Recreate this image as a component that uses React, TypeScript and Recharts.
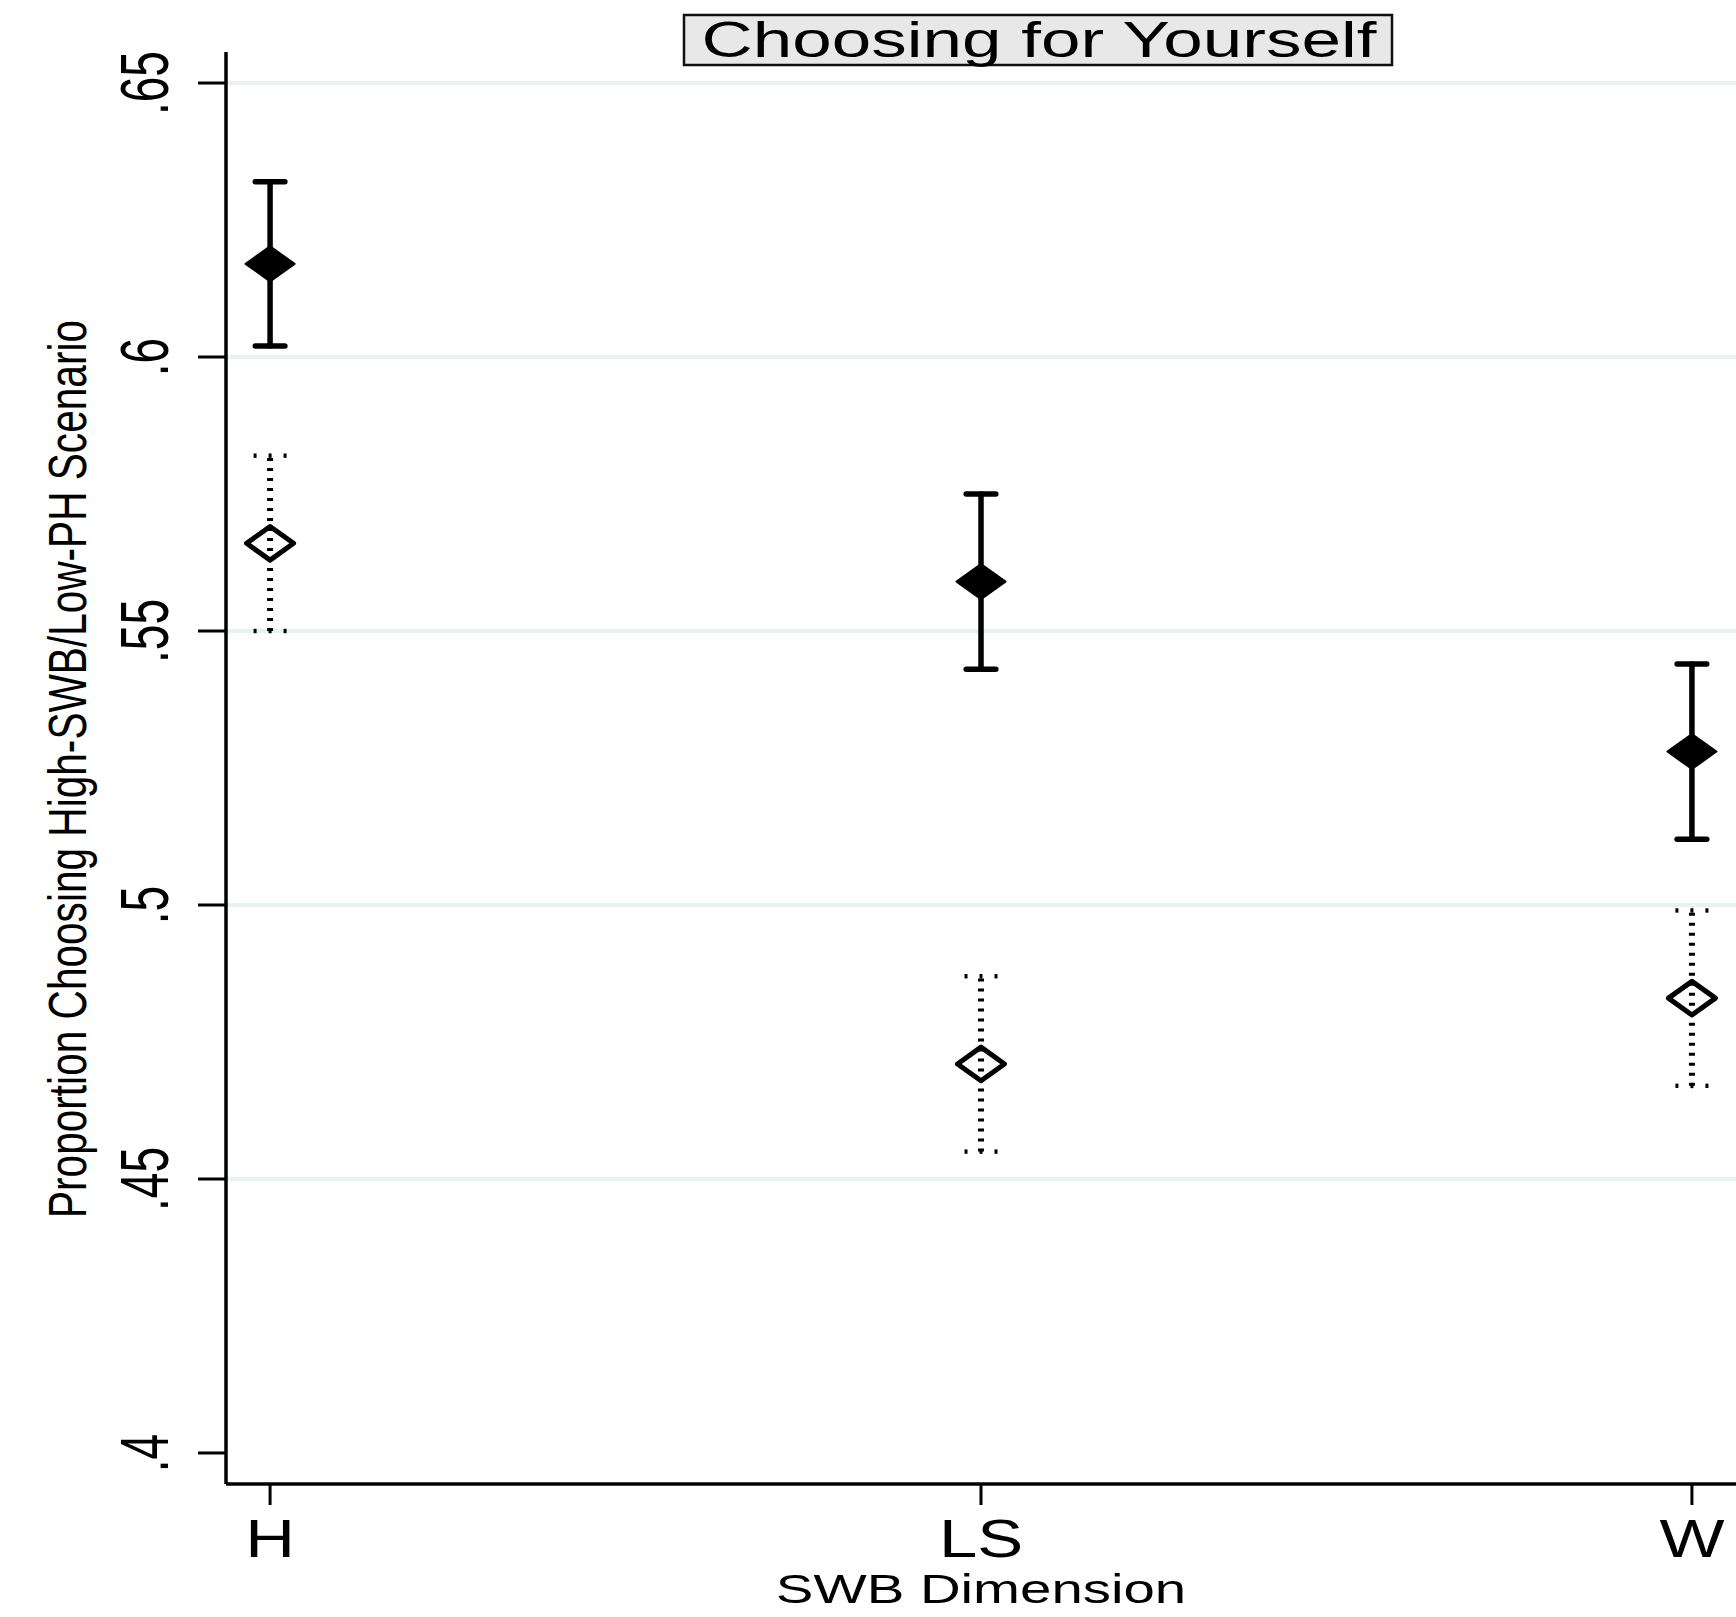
import React from "react"
import { ScatterChart, Scatter, XAxis, YAxis, ErrorBar, ReferenceLine } from "recharts"

const categories = ["H", "LS", "W"]
const positions = [1, 2, 3]

// solid diamonds with solid CI bars
const filledMean = [0.617, 0.559, 0.528]
const filledLow = [0.602, 0.543, 0.512]
const filledHigh = [0.632, 0.575, 0.544]

// hollow diamonds with dotted CI bars
const hollowMean = [0.566, 0.471, 0.483]
const hollowLow = [0.55, 0.455, 0.467]
const hollowHigh = [0.582, 0.487, 0.499]

const yTicks = [0.4, 0.45, 0.5, 0.55, 0.6, 0.65]
const gridValues = [0.45, 0.5, 0.55, 0.6, 0.65]

const font = "'Liberation Sans', Arial, Helvetica, sans-serif"

const filledData = positions.map((x, i) => ({
  x,
  y: filledMean[i],
  err: [filledMean[i] - filledLow[i], filledHigh[i] - filledMean[i]],
}))

const hollowData = positions.map((x, i) => ({
  x,
  y: hollowMean[i],
  err: [hollowMean[i] - hollowLow[i], hollowHigh[i] - hollowMean[i]],
}))

const hollowCaps = positions.flatMap((x, i) => [
  { x, y: hollowLow[i] },
  { x, y: hollowHigh[i] },
])

const fmtY = (v: number) => v.toFixed(2).replace(/0+$/, "").replace(/^0/, "")

const FilledDiamond = (p: any) => {
  const { cx, cy } = p
  return (
    <path
      d={`M${cx - 24.5},${cy}L${cx},${cy - 17.5}L${cx + 24.5},${cy}L${cx},${cy + 17.5}Z`}
      fill="#000"
      stroke="#000"
      strokeWidth={2}
      strokeLinejoin="round"
    />
  )
}

const HollowDiamond = (p: any) => {
  const { cx, cy } = p
  return (
    <path
      d={`M${cx - 23.5},${cy}L${cx},${cy - 16.8}L${cx + 23.5},${cy}L${cx},${cy + 16.8}Z`}
      fill="none"
      stroke="#000"
      strokeWidth={5}
      strokeLinejoin="round"
    />
  )
}

const DottedCap = (p: any) => {
  const { cx, cy } = p
  return (
    <g fill="#000">
      {[-15, 0, 15].map((dx) => (
        <rect key={dx} x={cx + dx - 1.5} y={cy - 2.2} width={3} height={4.4} />
      ))}
    </g>
  )
}

const YTick = (p: any) => {
  const { x, y, payload } = p
  return (
    <g transform={`translate(${x - 30},${y}) scale(1.5,1) rotate(-90)`}>
      <text x={0} y={0} textAnchor="middle" fontSize={46} fontFamily={font} fill="#000">
        {fmtY(payload.value)}
      </text>
    </g>
  )
}

const XTick = (p: any) => {
  const { x, y, payload } = p
  const label = categories[positions.indexOf(payload.value)] ?? ""
  return (
    <g transform={`translate(${x},${y + 50}) scale(1.3,1)`}>
      <text x={0} y={0} textAnchor="middle" fontSize={53} fontFamily={font} fill="#000">
        {label}
      </text>
    </g>
  )
}

const YLabel = (p: any) => {
  const vb = p.viewBox || { x: 0, y: 52, width: 226, height: 1432 }
  return (
    <g transform={`translate(${vb.x + 86},${vb.y + vb.height / 2 + 1}) scale(1.33,1) rotate(-90)`}>
      <text x={0} y={0} textAnchor="middle" fontSize={40.6} fontFamily={font} fill="#000">
        Proportion Choosing High-SWB/Low-PH Scenario
      </text>
    </g>
  )
}

const XLabel = (p: any) => {
  const vb = p.viewBox || { x: 226, y: 1484, width: 1510, height: 133 }
  return (
    <g transform={`translate(${vb.x + vb.width / 2},${vb.y + 119}) scale(1.375,1)`}>
      <text x={0} y={0} textAnchor="middle" fontSize={41} fontFamily={font} fill="#000">
        SWB Dimension
      </text>
    </g>
  )
}

export default function App() {
  return (
    <div style={{ position: "absolute", left: 0, top: 0, width: 1736, height: 1617, background: "#fff" }}>
      <ScatterChart width={1736} height={1617} margin={{ top: 52, right: 0, bottom: 0, left: 0 }}>
        {gridValues.map((v) => (
          <ReferenceLine key={v} y={v} stroke="#e9f1f3" strokeWidth={4} />
        ))}
        <XAxis
          type="number"
          dataKey="x"
          domain={[0.938, 3.062]}
          ticks={positions}
          allowDataOverflow
          height={133}
          tickSize={21}
          tickMargin={2}
          tick={<XTick />}
          tickLine={{ stroke: "#000", strokeWidth: 3 }}
          axisLine={{ stroke: "#000", strokeWidth: 3.5 }}
          label={{ content: <XLabel /> }}
        />
        <YAxis
          type="number"
          dataKey="y"
          domain={[0.39434, 0.65566]}
          ticks={yTicks}
          allowDataOverflow
          width={226}
          tickSize={28}
          tickMargin={0}
          tick={<YTick />}
          tickLine={{ stroke: "#000", strokeWidth: 3 }}
          axisLine={{ stroke: "#000", strokeWidth: 3.5 }}
          label={{ content: <YLabel /> }}
        />
        <Scatter data={hollowCaps} shape={<DottedCap />} isAnimationActive={false} />
        <Scatter data={hollowData} shape={<HollowDiamond />} isAnimationActive={false}>
          <ErrorBar
            dataKey="err"
            direction="y"
            width={0}
            stroke="#000"
            strokeWidth={6}
            strokeDasharray="3 7"
            isAnimationActive={false}
          />
        </Scatter>
        <Scatter data={filledData} shape={<FilledDiamond />} isAnimationActive={false}>
          <ErrorBar
            dataKey="err"
            direction="y"
            width={14.8}
            stroke="#000"
            strokeWidth={5.5}
            strokeLinecap="round"
            isAnimationActive={false}
          />
        </Scatter>
      </ScatterChart>
      <svg
        width={1736}
        height={80}
        style={{ position: "absolute", left: 0, top: 0, pointerEvents: "none" }}
      >
        <rect x={684} y={15} width={708} height={50} fill="#e8e8e8" stroke="#111" strokeWidth={2.5} />
        <g transform="translate(1039,57) scale(1.42,1)">
          <text x={0} y={0} textAnchor="middle" fontSize={50} fontFamily={font} fill="#000">
            Choosing for Yourself
          </text>
        </g>
      </svg>
    </div>
  )
}
